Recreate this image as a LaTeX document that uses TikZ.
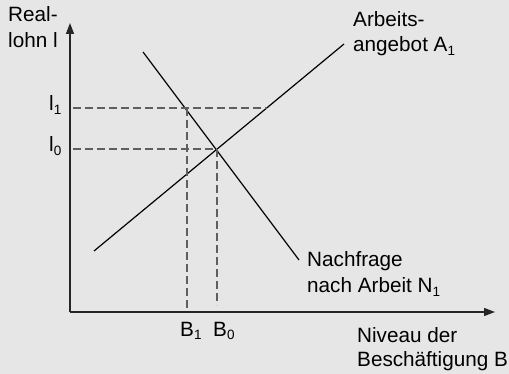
\documentclass[tikz,border=0pt]{standalone}
\usepackage{fontspec}
\setmainfont{Liberation Sans}
\usetikzlibrary{arrows.meta}
\newcommand\subsc[1]{\raisebox{-3.5pt}{\fontsize{13.5}{13.5}\selectfont #1}}
\definecolor{bg}{RGB}{230,230,230}
\definecolor{dashcol}{RGB}{95,95,95}
\begin{document}
\begin{tikzpicture}[x=1pt,y=-1pt,
  axis/.style={line width=1.4pt, draw=black!85, -{Triangle[length=11pt,width=8pt]}},
  curve/.style={line width=1.2pt, draw=black},
  guide/.style={line width=1.3pt, draw=dashcol, dash pattern=on 8pt off 4pt},
  lbl/.style={font=\fontsize{20.7}{25.5}\selectfont, inner sep=0pt, anchor=base west, text=black}]
\fill[bg] (0,0) rectangle (509,374);
\useasboundingbox (0,0) rectangle (509,374);
% axes
\coordinate (O) at (70,312);
\coordinate (Ytip) at (70,23);
\coordinate (Xtip) at (495,312);
\draw[axis] (O) -- (Ytip);
\draw[axis] (O) -- (Xtip);
% curves
\coordinate (S1) at (94,251);
\coordinate (S2) at (344,44);
\coordinate (D1) at (143,52);
\coordinate (D2) at (299,260);
\draw[curve] (S1) -- (S2);
\draw[curve] (D1) -- (D2);
% guide points
\coordinate (E) at (217,149);
\coordinate (Sp) at (267,108);
\coordinate (Dp) at (187,108);
\coordinate (L1) at (73,108);
\coordinate (L0) at (73,149);
\coordinate (B1b) at (187,311);
\coordinate (B0b) at (217,305);
\draw[guide] (L1) -- (Sp);
\draw[guide] (L0) -- (E);
\draw[guide] (Dp) -- (B1b);
\draw[guide] (E) -- (B0b);
% labels
\node[lbl] (real) at (8,22) {Real-};
\node[lbl] (lohn) at (8,48) {lohn l};
\node[lbl] (arb) at (353,27) {Arbeits-};
\node[lbl] (ang) at (353,52) {angebot A\subsc{1}};
\node[lbl] (nach) at (307,267) {Nachfrage};
\node[lbl] (nacha) at (307,293) {nach Arbeit N\subsc{1}};
\node[lbl] (niv) at (357,342) {Niveau der};
\node[lbl] (besch) at (357,366) {Beschäftigung B};
\node[lbl] (l1) at (49,111) {l\subsc{1}};
\node[lbl] (l0) at (49,152) {l\subsc{0}};
\node[lbl] (b1) at (180,336) {B\subsc{1}};
\node[lbl] (b0) at (213,336) {B\subsc{0}};
\end{tikzpicture}
\end{document}
